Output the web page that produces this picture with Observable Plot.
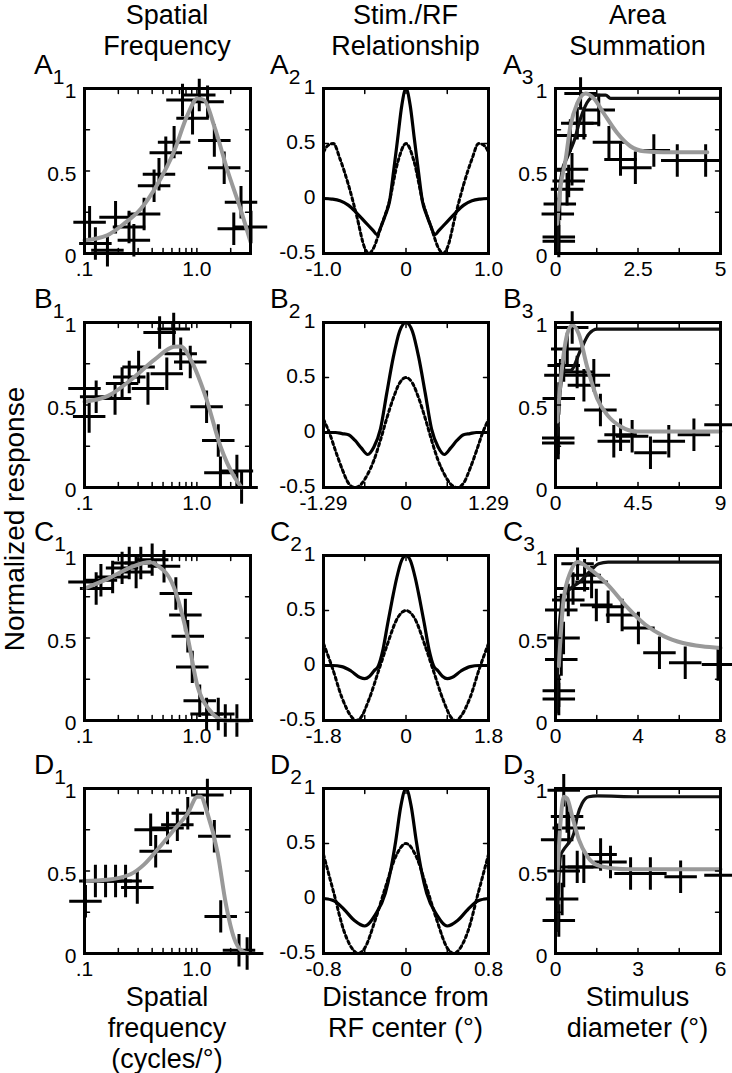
<!DOCTYPE html>
<html><head><meta charset="utf-8">
<script src="https://cdn.jsdelivr.net/npm/d3@7"></script>
<script src="https://cdn.jsdelivr.net/npm/@observablehq/plot@0.6"></script>
<style>
html,body{margin:0;padding:0;background:#fff;overflow:hidden}
#fig{position:relative;width:732px;height:1073px;overflow:hidden;font-family:"Liberation Sans",Arial,Helvetica,sans-serif;color:#000}
.hdr{position:absolute;width:260px;text-align:center;font-size:27px;line-height:31px;white-space:nowrap}
.ftr{position:absolute;width:260px;text-align:center;font-size:27px;line-height:31px;white-space:nowrap}
.plab{position:absolute;font-size:28px;line-height:28px;white-space:nowrap}
.plab span{position:relative;top:10px;font-size:21px;margin-left:0px}
.ytitle{position:absolute;width:400px;text-align:center;font-size:28px;line-height:28px;white-space:nowrap;transform:rotate(-90deg)}
</style></head>
<body><div id="fig"></div>
<script>
// ---------- text ----------
const headers = [["Spatial","Frequency"],["Stim./RF","Relationship"],["Area","Summation"]];
const footers = [["Spatial","frequency","(cycles/°)"],["Distance from","RF center (°)"],["Stimulus","diameter (°)"]];
const rowLetters = ["A","B","C","D"];
const yTitle = "Normalized response";

// ---------- ticks ----------
const sfTickVals = [0.1, 1];
const sfTickText = [".1", "1.0"];
const sfMinor = [0.1,0.2,0.3,0.4,0.5,0.6,0.7,0.8,0.9,1,2,3];
const unitTickVals = [0, 0.5, 1];
const unitTickText = ["0", "0.5", "1"];
const unitMinor = [0, 0.25, 0.5, 0.75, 1];
const rfYTickVals = [-0.5, 0, 0.5, 1];
const rfYTickText = ["-0.5", "0", "0.5", "1"];
const rfXMax = [1.0, 1.29, 1.8, 0.8];
const rfXText = [["-1.0","0","1.0"],["-1.29","0","1.29"],["-1.8","0","1.8"],["-0.8","0","0.8"]];
const asXMax = [5, 9, 8, 6];
const asXText = [["0","2.5","5"],["0","4.5","9"],["0","4","8"],["0","3","6"]];

// ---------- column 1 : spatial frequency ----------
const a1Points = [[0.111,0.19],[0.125,0.06],[0.16,0.02],[0.189,0.22],[0.249,0.16],[0.275,0.08],[0.339,0.24],[0.416,0.41],[0.46,0.48],[0.529,0.61],[0.627,0.675],[0.745,0.93],[0.915,0.82],[1.05,0.96],[1.245,0.92],[1.43,0.685],[1.75,0.52],[2.47,0.31],[2.13,0.15],[3.03,0.16]];
const a1Fit = [[0.1,0.08],[0.159,0.11],[0.224,0.18],[0.316,0.27],[0.446,0.42],[0.627,0.62],[0.826,0.84],[1.01,0.94],[1.16,0.93],[1.43,0.77],[1.88,0.5],[2.47,0.26],[3.0,0.07]];
const b1Points = [[0.1,0.6],[0.11,0.43],[0.127,0.55],[0.187,0.54],[0.216,0.63],[0.25,0.67],[0.303,0.73],[0.367,0.6],[0.466,0.94],[0.622,0.96],[0.54,0.69],[0.718,0.81],[0.873,0.76],[1.22,0.49],[1.55,0.285],[1.62,0.09],[2.27,0.1],[2.5,0.0]];
const b1Fit = [[0.1,0.52],[0.162,0.555],[0.262,0.655],[0.423,0.776],[0.622,0.853],[0.718,0.855],[0.91,0.756],[1.22,0.533],[1.62,0.25],[2.17,0.06],[2.5,0.0]];
const c1Points = [[0.1,0.84],[0.127,0.8],[0.14,0.85],[0.178,0.87],[0.216,0.925],[0.25,0.955],[0.288,0.9],[0.317,0.955],[0.4,0.975],[0.51,0.935],[0.65,0.77],[0.79,0.64],[0.83,0.51],[0.91,0.325],[1.06,0.12],[1.22,0.04],[1.55,0.04],[1.79,0.0],[2.27,0.0]];
const c1Fit = [[0.1,0.8],[0.162,0.86],[0.262,0.93],[0.384,0.96],[0.444,0.94],[0.622,0.81],[0.83,0.5],[1.01,0.21],[1.28,0.068],[1.79,0.0],[2.9,0.0]];
const d1Points = [[0.102,0.316],[0.125,0.44],[0.154,0.44],[0.189,0.44],[0.232,0.44],[0.295,0.4],[0.388,0.75],[0.43,0.62],[0.548,0.76],[0.67,0.78],[0.83,0.85],[1.24,0.96],[1.43,0.71],[1.63,0.225],[2.37,0.02],[2.8,0.0]];
const d1Fit = [[0.1,0.44],[0.159,0.447],[0.257,0.48],[0.34,0.54],[0.446,0.63],[0.627,0.75],[0.83,0.85],[1.01,0.95],[1.08,0.95],[1.24,0.85],[1.53,0.61],[1.8,0.31],[2.15,0.09],[2.47,0.02],[2.9,0.0]];

// ---------- column 2 : stimulus / RF relationship ----------
const a2Solid = [[-1,0],[-0.9,-0.005],[-0.8,-0.02],[-0.7,-0.06],[-0.6,-0.13],[-0.5,-0.21],[-0.4,-0.29],[-0.35,-0.33],[-0.3,-0.25],[-0.25,-0.15],[-0.2,-0.03],[-0.15,0.25],[-0.1,0.55],[-0.05,0.85],[0,1],[0.05,0.85],[0.1,0.55],[0.15,0.25],[0.2,-0.03],[0.25,-0.15],[0.3,-0.25],[0.35,-0.33],[0.4,-0.29],[0.5,-0.21],[0.6,-0.13],[0.7,-0.06],[0.8,-0.02],[0.9,-0.005],[1,0]];
const a2Dotted = [[-1,0.42],[-0.95,0.48],[-0.88,0.5],[-0.8,0.36],[-0.7,0.13],[-0.6,-0.15],[-0.5,-0.45],[-0.45,-0.5],[-0.4,-0.46],[-0.3,-0.25],[-0.2,-0.02],[-0.1,0.33],[0,0.5],[0.1,0.33],[0.2,-0.02],[0.3,-0.25],[0.4,-0.46],[0.45,-0.5],[0.5,-0.45],[0.6,-0.15],[0.7,0.13],[0.8,0.36],[0.88,0.5],[0.95,0.48],[1,0.42]];
const b2Solid = [[-1.29,0],[-1.1,0],[-1.0,-0.01],[-0.9,-0.02],[-0.8,-0.07],[-0.7,-0.14],[-0.6,-0.2],[-0.5,-0.13],[-0.4,0.03],[-0.3,0.36],[-0.2,0.68],[-0.1,0.92],[0,1],[0.1,0.92],[0.2,0.68],[0.3,0.36],[0.4,0.03],[0.5,-0.13],[0.6,-0.2],[0.7,-0.14],[0.8,-0.07],[0.9,-0.02],[1.0,-0.01],[1.1,0],[1.29,0]];
const b2Dotted = [[-1.29,0.12],[-1.2,0.0],[-1.1,-0.17],[-1.0,-0.33],[-0.9,-0.46],[-0.8,-0.5],[-0.7,-0.47],[-0.6,-0.38],[-0.5,-0.25],[-0.4,-0.07],[-0.3,0.13],[-0.2,0.31],[-0.1,0.45],[0,0.5],[0.1,0.45],[0.2,0.31],[0.3,0.13],[0.4,-0.07],[0.5,-0.25],[0.6,-0.38],[0.7,-0.47],[0.8,-0.5],[0.9,-0.46],[1.0,-0.33],[1.1,-0.17],[1.2,0.0],[1.29,0.12]];
const c2Solid = [[-1.8,0],[-1.6,0],[-1.4,-0.01],[-1.2,-0.05],[-1.0,-0.11],[-0.9,-0.12],[-0.8,-0.1],[-0.7,-0.05],[-0.6,0],[-0.5,0.15],[-0.4,0.38],[-0.3,0.6],[-0.2,0.8],[-0.1,0.95],[0,1],[0.1,0.95],[0.2,0.8],[0.3,0.6],[0.4,0.38],[0.5,0.15],[0.6,0],[0.7,-0.05],[0.8,-0.1],[0.9,-0.12],[1.0,-0.11],[1.2,-0.05],[1.4,-0.01],[1.6,0],[1.8,0]];
const c2Dotted = [[-1.8,0.2],[-1.6,-0.03],[-1.4,-0.29],[-1.2,-0.46],[-1.09,-0.5],[-1.0,-0.48],[-0.8,-0.3],[-0.6,-0.05],[-0.4,0.2],[-0.2,0.42],[0,0.5],[0.2,0.42],[0.4,0.2],[0.6,-0.05],[0.8,-0.3],[1.0,-0.48],[1.09,-0.5],[1.2,-0.46],[1.4,-0.29],[1.6,-0.03],[1.8,0.2]];
const d2Solid = [[-0.8,0],[-0.7,-0.02],[-0.6,-0.1],[-0.5,-0.2],[-0.4,-0.25],[-0.3,-0.15],[-0.2,0.05],[-0.15,0.25],[-0.1,0.52],[-0.05,0.84],[0,1],[0.05,0.84],[0.1,0.52],[0.15,0.25],[0.2,0.05],[0.3,-0.15],[0.4,-0.25],[0.5,-0.2],[0.6,-0.1],[0.7,-0.02],[0.8,0]];
const d2Dotted = [[-0.8,0.4],[-0.7,0.05],[-0.6,-0.3],[-0.5,-0.48],[-0.466,-0.5],[-0.4,-0.45],[-0.3,-0.2],[-0.2,0.1],[-0.1,0.38],[0,0.5],[0.1,0.38],[0.2,0.1],[0.3,-0.2],[0.4,-0.45],[0.466,-0.5],[0.5,-0.48],[0.6,-0.3],[0.7,0.05],[0.8,0.4]];

// ---------- column 3 : area summation ----------
const a3Points = [[0.1,0.075],[0.1,0.1],[0.07,0.24],[0.13,0.3],[0.35,0.39],[0.4,0.44],[0.5,0.51],[0.45,0.715],[0.66,0.79],[0.86,0.79],[0.76,0.97],[1.31,0.87],[1.62,0.675],[1.97,0.57],[2.42,0.52],[2.98,0.624],[3.69,0.563],[4.55,0.563]];
const a3Model = [[0.05,0.01],[0.1,0.3],[0.2,0.5],[0.35,0.58],[0.56,0.68],[0.76,0.82],[1.01,0.93],[1.26,0.96],[1.52,0.96],[1.67,0.94],[1.8,0.94],[2.5,0.94],[3.5,0.94],[5,0.94]];
const a3Fit = [[0.05,0.18],[0.15,0.4],[0.3,0.56],[0.45,0.77],[0.66,0.91],[0.91,0.97],[1.16,0.94],[1.46,0.85],[1.87,0.73],[2.27,0.65],[2.68,0.62],[3.28,0.614],[4.6,0.614]];
const b3Points = [[0.15,0.3],[0.15,0.27],[0.18,0.54],[0.27,0.68],[0.45,0.74],[0.64,0.84],[0.91,0.97],[1.18,0.7],[1.55,0.62],[2.09,0.68],[2.45,0.47],[3.18,0.28],[3.55,0.32],[4.18,0.31],[5.18,0.21],[6.18,0.28],[7.55,0.32],[9.0,0.38]];
const b3Model = [[0.09,0.32],[0.27,0.6],[0.45,0.71],[0.82,0.71],[1.36,0.83],[1.82,0.93],[2.27,0.96],[4,0.96],[9,0.96]];
const b3Fit = [[0.09,0.4],[0.36,0.73],[0.64,0.93],[0.91,0.985],[1.27,0.93],[1.73,0.73],[2.27,0.54],[2.82,0.44],[3.55,0.37],[4.45,0.34],[5.9,0.34],[9,0.34]];
const c3Points = [[0.16,0.18],[0.16,0.13],[0.28,0.37],[0.39,0.5],[0.28,0.67],[0.62,0.73],[0.85,0.8],[1.07,0.95],[1.41,0.88],[1.75,0.84],[1.98,0.7],[2.55,0.69],[3.23,0.64],[4.02,0.56],[5.04,0.41],[6.29,0.35],[7.88,0.34]];
const c3Model = [[0.05,0.05],[0.16,0.53],[0.39,0.75],[0.73,0.8],[1.18,0.84],[1.64,0.9],[2.09,0.95],[2.55,0.96],[4,0.96],[8,0.96]];
const c3Fit = [[0.16,0.33],[0.39,0.73],[0.73,0.9],[1.07,0.96],[1.64,0.92],[2.55,0.82],[3.45,0.69],[4.36,0.58],[5.27,0.51],[6.18,0.47],[7.09,0.45],[8,0.44]];
const d3Points = [[0.12,0.2],[0.24,0.33],[0.06,0.69],[0.3,0.99],[0.42,0.83],[0.48,0.76],[0.3,0.5],[0.79,0.525],[1.03,0.525],[1.64,0.6],[2.0,0.555],[2.73,0.485],[3.45,0.485],[4.55,0.465],[6.0,0.475]];
const d3Model = [[0.06,0.14],[0.12,0.44],[0.18,0.59],[0.3,0.63],[0.48,0.67],[0.67,0.73],[0.79,0.83],[0.97,0.91],[1.21,0.95],[1.52,0.955],[3,0.95],[6,0.95]];
const d3Fit = [[0.06,0.44],[0.18,0.79],[0.3,0.95],[0.42,0.94],[0.61,0.83],[0.85,0.69],[1.15,0.59],[1.52,0.535],[2.12,0.515],[2.73,0.51],[6,0.51]];

const sfPoints = [a1Points, b1Points, c1Points, d1Points];
const sfFits = [a1Fit, b1Fit, c1Fit, d1Fit];
const rfSolid = [a2Solid, b2Solid, c2Solid, d2Solid];
const rfDotted = [a2Dotted, b2Dotted, c2Dotted, d2Dotted];
const asPoints = [a3Points, b3Points, c3Points, d3Points];
const asModel = [a3Model, b3Model, c3Model, d3Model];
const asFit = [a3Fit, b3Fit, c3Fit, d3Fit];

// ---------- layout ----------
const colLeft = [84, 323, 555], colW = [166, 165, 165];
const rowTop = [88, 322, 555, 788], H = 165;
const ml = 52, mr = 12, mt = 10, mb = 34;
const FONT = '"Liberation Sans", Arial, Helvetica, sans-serif';
const GREY = "#999999";
const fig = document.getElementById("fig");

const tickShape = {draw(ctx, l) { ctx.moveTo(0, 0); ctx.lineTo(0, -l); }};
function tickMarks(xt, yt) {
  const o = {length: 5, anchor: "start", shape: tickShape, stroke: "black", strokeWidth: 1.5};
  return [
    Plot.vector(xt, {...o, x: d => d, frameAnchor: "bottom", rotate: 0}),
    Plot.vector(xt, {...o, x: d => d, frameAnchor: "top", rotate: 180}),
    Plot.vector(yt, {...o, y: d => d, frameAnchor: "left", rotate: 90}),
    Plot.vector(yt, {...o, y: d => d, frameAnchor: "right", rotate: -90})
  ];
}
function labelAxes(xv, xt, yv, yt, ydy) {
  const xm = new Map(xv.map((v, i) => [v, xt[i]]));
  const ym = new Map(yv.map((v, i) => [v, yt[i]]));
  return [
    Plot.axisX(xv, {tickSize: 0, tickPadding: 8, fontSize: 21, tickFormat: d => xm.get(d), label: null}),
    Plot.axisY(yv, {tickSize: 0, tickPadding: 8, fontSize: 21, dy: ydy, tickFormat: d => ym.get(d), label: null})
  ];
}
const pt = () => ({x: d => d[0], y: d => d[1]});
function crosses(pts) {
  return Plot.dot(pts, {...pt(), symbol: "plus", r: 10.5, stroke: "black", fill: "none", strokeWidth: 3});
}

function place(svg, r, c) {
  svg.style.position = "absolute";
  svg.style.left = (colLeft[c] - ml) + "px";
  svg.style.top = (rowTop[r] - mt) + "px";
  svg.style.overflow = "visible";
  svg.style.background = "transparent";
  svg.style.maxWidth = "none";
  fig.appendChild(svg);
}
function base(c, x, y, marks) {
  return Plot.plot({
    width: ml + colW[c] + mr, height: mt + H + mb,
    marginLeft: ml, marginRight: mr, marginTop: mt, marginBottom: mb,
    x, y,
    style: {fontFamily: FONT, fontSize: "21px", color: "black", background: "transparent", overflow: "visible"},
    marks
  });
}

for (let r = 0; r < 4; r++) {
  // column 1
  place(base(0, {type: "log", domain: [0.1, 3]}, {domain: [0, 1]}, [
    crosses(sfPoints[r]),
    Plot.line(sfFits[r], {...pt(), stroke: GREY, strokeWidth: 4, curve: "monotone-x"}),
    ...tickMarks(sfMinor, unitMinor),
    ...labelAxes(sfTickVals, sfTickText, unitTickVals, unitTickText, 3),
    Plot.frame({stroke: "black", strokeWidth: 3})
  ]), r, 0);
  // column 2
  const m = rfXMax[r];
  place(base(1, {domain: [-m, m]}, {domain: [-0.5, 1]}, [
    Plot.line(rfSolid[r], {...pt(), stroke: "black", strokeWidth: 3.2, curve: "monotone-x"}),
    Plot.line(rfDotted[r], {...pt(), stroke: "black", strokeWidth: 3, strokeDasharray: "3,3", curve: "monotone-x"}),
    ...tickMarks([-m, -m / 2, 0, m / 2, m], rfYTickVals),
    ...labelAxes([-m, 0, m], rfXText[r], rfYTickVals, rfYTickText, -1),
    Plot.frame({stroke: "black", strokeWidth: 3})
  ]), r, 1);
  // column 3
  const a = asXMax[r];
  place(base(2, {domain: [0, a]}, {domain: [0, 1]}, [
    crosses(asPoints[r]),
    Plot.line(asModel[r], {...pt(), stroke: "#111", strokeWidth: 3.2, curve: "monotone-x"}),
    Plot.line(asFit[r], {...pt(), stroke: GREY, strokeWidth: 4, curve: "monotone-x"}),
    ...tickMarks([0, a / 4, a / 2, 3 * a / 4, a], unitMinor),
    ...labelAxes([0, a / 2, a], asXText[r], unitTickVals, unitTickText, 3),
    Plot.frame({stroke: "black", strokeWidth: 3})
  ]), r, 2);
}

// ---------- HTML text ----------
function addDiv(cls, html, left, top) {
  const d = document.createElement("div");
  d.className = cls; d.innerHTML = html;
  d.style.left = left + "px"; d.style.top = top + "px";
  fig.appendChild(d); return d;
}
headers.forEach((h, c) => {
  const cx = colLeft[c] + colW[c] / 2;
  addDiv("hdr", h.join("<br>"), cx - 130, 0);
});
footers.forEach((f, c) => {
  const cx = colLeft[c] + colW[c] / 2;
  addDiv("ftr", f.join("<br>"), cx - 130, 982);
});
const labelOffset = [50, 53, 52];
rowLetters.forEach((L, r) => {
  for (let c = 0; c < 3; c++) {
    addDiv("plab", L + "<span>" + (c + 1) + "</span>", colLeft[c] - labelOffset[c], rowTop[r] - 13 - 23.7);
  }
});
addDiv("ytitle", yTitle, 15.3 - 200, 519 - 14);
</script>
</body></html>
